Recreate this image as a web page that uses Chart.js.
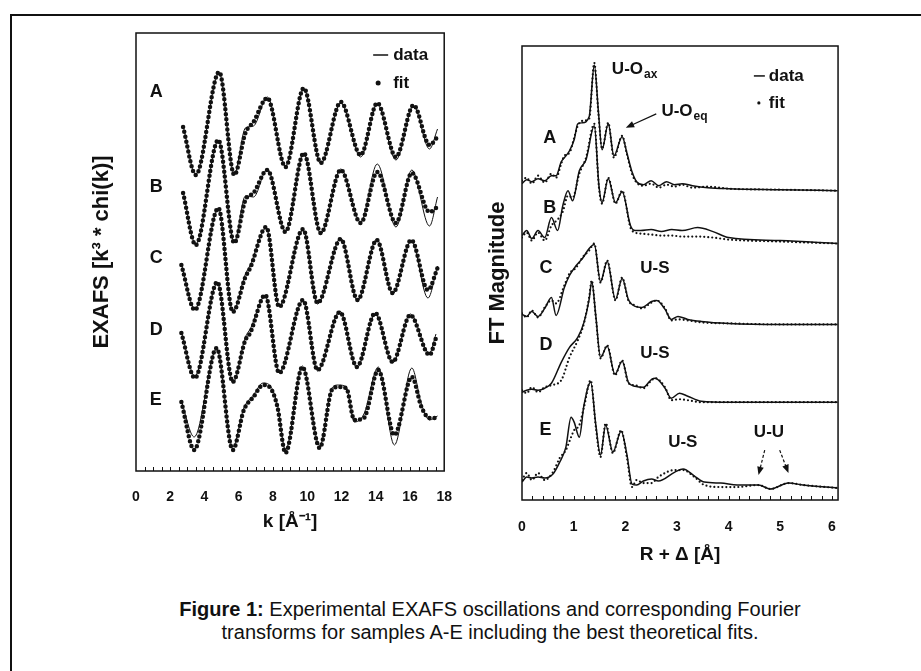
<!DOCTYPE html>
<html lang="en">
<head>
<meta charset="UTF-8">
<title>EXAFS oscillations and Fourier transforms</title>
<script src="https://cdn.jsdelivr.net/npm/chart.js"></script>
<style>
  html, body { margin: 0; padding: 0; background: #fff; }
  body { width: 921px; height: 671px; overflow: hidden; position: relative; font-family: "Liberation Sans", Arial, sans-serif; color: #111; }
  .frame { position: absolute; left: 10px; top: 14px; width: 1000px; height: 1000px; border-left: 2px solid #111; border-top: 2px solid #111; }
  #exafsChart { position: absolute; left: 60px; top: 20px; }
  #ftChart { position: absolute; left: 470px; top: 33px; }
  .caption { position: absolute; left: 90px; top: 598px; width: 800px; text-align: center; font-size: 20px; line-height: 23px; }
</style>
</head>
<body>
<div class="frame"></div>
<canvas id="exafsChart" width="410" height="525"></canvas>
<canvas id="ftChart" width="385" height="560"></canvas>
<div class="caption"><b>Figure 1:</b> Experimental EXAFS oscillations and corresponding Fourier<br>transforms for samples A-E including the best theoretical fits.</div>

<script>
// samples, stacked from top to bottom
const samples = ['A', 'B', 'C', 'D', 'E'];

// --- EXAFS k^3*chi(k), values relative to each trace's own zero line ---
const exafsOffset = [336, 271, 201, 136, 71];

const kA    = [2.75, 3.49, 4.86, 5.74, 6.39, 6.86, 7.67, 8.73, 9.80, 10.79, 11.96, 13.12, 14.09, 15.18, 16.21, 17.14, 17.61];
const fitA  = [8, -40, 63, -40, 2, 13, 37, -32, 47, -28, 33, -20, 32, -22, 30, -10, -2];
const dataA = [9, -39, 62, -39, 7, 9, 38, -31, 46, -29, 32, -22, 31, -25, 29, -14, 6];

const kB    = [2.75, 3.49, 4.81, 5.74, 6.39, 6.86, 7.67, 8.73, 9.80, 10.79, 11.96, 13.12, 14.09, 15.18, 16.11, 17.14, 17.61];
const fitB  = [7, -45, 60, -43, 0, 7, 30, -32, 47, -33, 30, -23, 28, -23, 27, -12, -7];
const dataB = [8, -44, 59, -42, 4, 3, 31, -31, 46, -34, 31, -22, 36, -27, 30, -26, 3];

const kC    = [2.65, 3.44, 4.81, 5.65, 6.39, 6.67, 7.61, 8.36, 9.76, 10.60, 11.96, 12.94, 14.06, 14.99, 16.08, 17.05, 17.61];
const fitC  = [5, -40, 62, -42, -7, 2, 43, -37, 41, -33, 31, -30, 30, -23, 30, -20, 2];
const dataC = [6, -39, 61, -41, -4, 5, 42, -36, 40, -34, 32, -31, 31, -24, 29, -28, 4];

const kD    = [2.65, 3.44, 4.75, 5.65, 6.39, 6.67, 7.55, 8.36, 9.76, 10.60, 11.91, 12.90, 13.97, 14.99, 16.02, 17.14, 17.52];
const fitD  = [2, -43, 53, -47, -5, 2, 40, -38, 35, -35, 23, -32, 22, -27, 20, -20, -3];
const dataD = [3, -41, 52, -48, -2, 6, 39, -37, 34, -36, 24, -33, 21, -28, 21, -18, 1];

const kE    = [2.65, 3.40, 4.71, 5.65, 6.30, 6.86, 7.42, 7.85, 8.26, 8.73, 9.72, 10.73, 11.44, 11.82, 12.28, 12.75, 13.31, 14.15, 15.09, 16.11, 16.67, 17.14, 17.61];
const fitE  = [-2, -50, 52, -50, -10, 3, 15, 12, -7, -53, 33, -48, 10, 13, 12, -20, -18, 30, -35, 23, -7, -18, -18];
const dataE = [-1, -37, 51, -47, -8, 5, 17, 14, -5, -50, 34, -46, 12, 15, 13, -22, -14, 33, -45, 32, -4, -20, -16];

const kTicks = [0, 2, 4, 6, 8, 10, 12, 14, 16, 18];

// --- FT magnitude, values above each trace's own baseline ---
const ftOffset = [315, 267, 178, 98, 13];

const rA      = [0.00, 0.09, 0.19, 0.31, 0.44, 0.57, 0.66, 0.76, 0.82, 0.92, 1.01, 1.08, 1.17, 1.30, 1.40, 1.48, 1.55, 1.67, 1.78, 1.94, 2.03, 2.13, 2.22, 2.35, 2.50, 2.65, 2.80, 2.95, 3.10, 3.30, 3.60, 4.00, 5.00, 6.11];
const ftFitA  = [5, 8, 2, 10, 3, 12, 8, 22, 30, 33, 48, 60, 65, 67, 123, 72, 37, 63, 28, 50, 32, 12, 3, 0, 2, -2, 1, -1, 1, -2, -1, -3, -4, -5];
const ftDataA = [2, 6, 4, 7, 5, 10, 10, 24, 28, 35, 46, 62, 63, 69, 121, 74, 36, 62, 30, 49, 33, 14, 4, 1, 5, 0, 4, 1, 2, 0, -2, -3, -4, -5];

const rB      = [0.00, 0.09, 0.19, 0.31, 0.44, 0.57, 0.69, 0.79, 0.89, 0.98, 1.11, 1.24, 1.40, 1.49, 1.55, 1.67, 1.81, 1.94, 2.10, 2.19, 2.30, 2.50, 2.70, 2.90, 3.10, 3.40, 3.70, 4.00, 5.00, 6.11];
const ftFitB  = [-4, 1, -7, 1, -7, 8, 14, 22, 38, 36, 60, 76, 110, 46, 30, 56, 30, 43, 6, 1, 0, -1, -2, -2, -3, -3, -4, -6, -8, -10];
const ftDataB = [-2, 3, -5, 3, -4, 16, 3, 28, 43, 33, 63, 74, 108, 48, 31, 55, 31, 42, 8, 3, 3, 4, 2, 4, 3, 6, 2, -4, -7, -10];

const rC      = [0.00, 0.09, 0.19, 0.31, 0.44, 0.57, 0.66, 0.82, 0.92, 1.05, 1.17, 1.30, 1.40, 1.52, 1.65, 1.81, 1.94, 2.06, 2.19, 2.32, 2.51, 2.61, 2.77, 2.89, 3.02, 3.21, 3.47, 4.00, 5.00, 6.11];
const ftFitC  = [9, 5, 12, 5, 15, 22, 19, 37, 49, 55, 65, 72, 79, 40, 62, 22, 45, 22, 17, 14, 20, 22, 14, 2, 3, 2, 0, -1, -2, -2];
const ftDataC = [8, 6, 11, 6, 14, 25, 7, 35, 47, 57, 64, 74, 78, 41, 61, 23, 44, 23, 16, 15, 21, 22, 13, 3, 6, 3, 1, -1, -2, -2];

const rD      = [0.00, 0.09, 0.19, 0.31, 0.44, 0.57, 0.76, 0.92, 1.08, 1.20, 1.30, 1.35, 1.43, 1.52, 1.65, 1.80, 1.94, 2.06, 2.19, 2.35, 2.51, 2.58, 2.77, 2.89, 3.05, 3.21, 3.47, 4.00, 5.00, 6.11];
const ftFitD  = [12, 9, 15, 10, 15, 17, 22, 45, 62, 79, 105, 122, 85, 44, 57, 27, 42, 19, 17, 14, 22, 24, 15, 2, 3, 2, 0, 0, 0, 0];
const ftDataD = [10, 12, 13, 12, 14, 19, 40, 55, 65, 80, 103, 121, 86, 45, 56, 28, 41, 20, 16, 15, 23, 24, 14, 4, 9, 6, 1, 0, 0, 0];

const rE      = [0.00, 0.09, 0.19, 0.31, 0.44, 0.60, 0.73, 0.85, 0.95, 1.01, 1.11, 1.20, 1.33, 1.43, 1.52, 1.62, 1.76, 1.92, 2.03, 2.13, 2.22, 2.35, 2.51, 2.64, 2.96, 3.12, 3.34, 3.53, 3.85, 4.17, 4.58, 4.81, 5.16, 5.44, 6.11];
const ftFitE  = [7, 14, 7, 14, 7, 15, 29, 37, 50, 57, 62, 80, 107, 60, 30, 64, 34, 57, 30, 0, 7, 4, 4, 10, 17, 17, 10, 2, 0, 0, 2, -2, 4, 2, -1];
const ftDataE = [5, 10, 9, 10, 9, 13, 25, 40, 70, 65, 50, 82, 105, 62, 32, 62, 35, 56, 33, 3, 2, 6, 8, 6, 15, 18, 11, 5, 4, 2, 2, -2, 4, 2, -1];

const rTicks = [0, 1, 2, 3, 4, 5, 6];

const FONT = '"Liberation Sans", Arial, sans-serif';
const INK = '#111';

// build one dotted "fit" and one thin "data" dataset per sample
function buildSets(xs, fits, datas, offsets, dot) {
    const sets = [];
    xs.forEach((xArr, i) => {
        sets.push({
            label: 'fit ' + samples[i],
            data: xArr.map((v, j) => ({ x: v, y: fits[i][j] + offsets[i] })),
            borderColor: INK,
            borderWidth: dot.size,
            borderDash: [0, dot.gap],
            borderCapStyle: 'round',
            cubicInterpolationMode: 'monotone',
            pointRadius: 0
        });
        sets.push({
            label: 'data ' + samples[i],
            data: xArr.map((v, j) => ({ x: v, y: datas[i][j] + offsets[i] })),
            borderColor: INK,
            borderWidth: dot.line,
            cubicInterpolationMode: 'monotone',
            pointRadius: 0
        });
    });
    return sets;
}

// frame, inner minor ticks, labels, arrows and the small legend
const decor = {
    id: 'decor',
    afterDatasetsDraw(chart, args, opts) {
        const { ctx, chartArea: a, scales: { x, y } } = chart;
        ctx.save();
        ctx.strokeStyle = INK;
        ctx.lineWidth = 1.5;
        ctx.strokeRect(a.left, a.top, a.right - a.left, a.bottom - a.top);

        ctx.lineWidth = 1;
        const n = Math.round((x.max - x.min) / opts.minorStep);
        for (let i = 1; i < n; i++) {
            const px = Math.round(x.getPixelForValue(x.min + i * opts.minorStep)) + 0.5;
            if (px >= a.right - 1) break;
            ctx.beginPath();
            ctx.moveTo(px, a.bottom);
            ctx.lineTo(px, a.bottom - 4);
            ctx.stroke();
        }

        ctx.fillStyle = INK;
        ctx.textBaseline = 'middle';
        ctx.textAlign = 'left';
        opts.labels.forEach(l => {
            const px = x.getPixelForValue(l.x), py = y.getPixelForValue(l.y);
            ctx.font = 'bold ' + l.size + 'px ' + FONT;
            ctx.fillText(l.text, px, py);
            if (l.sub) {
                const w = ctx.measureText(l.text).width;
                ctx.font = 'bold ' + Math.round(l.size * 0.7) + 'px ' + FONT;
                ctx.fillText(l.sub, px + w + 1, py + 6);
            }
        });

        opts.arrows.forEach(ar => {
            const x1 = x.getPixelForValue(ar.from[0]), y1 = y.getPixelForValue(ar.from[1]);
            const x2 = x.getPixelForValue(ar.to[0]), y2 = y.getPixelForValue(ar.to[1]);
            const ang = Math.atan2(y2 - y1, x2 - x1);
            ctx.lineWidth = 1.2;
            ctx.setLineDash(ar.dash || []);
            ctx.beginPath();
            ctx.moveTo(x1, y1);
            ctx.lineTo(x2 - 6 * Math.cos(ang), y2 - 6 * Math.sin(ang));
            ctx.stroke();
            ctx.setLineDash([]);
            ctx.beginPath();
            ctx.moveTo(x2, y2);
            ctx.lineTo(x2 - 9 * Math.cos(ang - 0.38), y2 - 9 * Math.sin(ang - 0.38));
            ctx.lineTo(x2 - 9 * Math.cos(ang + 0.38), y2 - 9 * Math.sin(ang + 0.38));
            ctx.closePath();
            ctx.fill();
        });

        const lg = opts.legend;
        const lx = x.getPixelForValue(lg.x), ly = y.getPixelForValue(lg.y);
        ctx.font = 'bold ' + lg.size + 'px ' + FONT;
        ctx.lineWidth = 1.5;
        ctx.beginPath();
        ctx.moveTo(lx, ly);
        ctx.lineTo(lx + lg.lineLen, ly);
        ctx.stroke();
        ctx.fillText('data', lx + lg.textGap, ly);
        ctx.beginPath();
        ctx.arc(lx + lg.dotAt, ly + lg.rowGap, lg.dot, 0, Math.PI * 2);
        ctx.fill();
        ctx.fillText('fit', lx + lg.textGap, ly + lg.rowGap);
        ctx.restore();
    }
};

function keepTicks(list) {
    return scale => { scale.ticks = list.map(v => ({ value: v })); };
}

function axisFont(size) {
    return { family: FONT, size: size, weight: 'bold' };
}

// left panel: EXAFS oscillations
new Chart(document.getElementById('exafsChart'), {
    type: 'line',
    data: {
        datasets: buildSets([kA, kB, kC, kD, kE], [fitA, fitB, fitC, fitD, fitE],
            [dataA, dataB, dataC, dataD, dataE], exafsOffset, { size: 4.5, gap: 5, line: 1 })
    },
    options: {
        responsive: false,
        animation: false,
        devicePixelRatio: 1,
        layout: { padding: { top: 13, right: 13, left: 0, bottom: 0 } },
        plugins: {
            legend: { display: false },
            tooltip: { enabled: false },
            decor: {
                minorStep: 0.5,
                labels: samples.map((s, i) => ({ text: s, x: 0.8, y: [379, 284, 213, 141, 71][i], size: 18 })),
                arrows: [],
                legend: { x: 13.85, y: 416, size: 17, lineLen: 15, textGap: 20, dotAt: 5, dot: 2.5, rowGap: 28 }
            }
        },
        scales: {
            x: {
                type: 'linear', min: 0, max: 18,
                afterFit: s => { s.height = 74; },
                afterBuildTicks: keepTicks(kTicks),
                grid: { display: false, drawTicks: false },
                border: { display: false },
                ticks: { padding: 18, font: axisFont(14), color: INK },
                title: { display: true, text: 'k [Å⁻¹]', font: axisFont(19), color: INK, padding: { top: 0, bottom: 12 } }
            },
            y: {
                min: 0, max: 438,
                afterFit: s => { s.width = 76; },
                grid: { display: false, drawTicks: false },
                border: { display: false },
                ticks: { display: false },
                title: { display: true, text: 'EXAFS [k³ * chi(k)]', font: axisFont(22), color: INK, padding: { top: 29, bottom: 0 } }
            }
        }
    },
    plugins: [decor]
});

// right panel: Fourier transform magnitude
new Chart(document.getElementById('ftChart'), {
    type: 'line',
    data: {
        datasets: buildSets([rA, rB, rC, rD, rE], [ftFitA, ftFitB, ftFitC, ftFitD, ftFitE],
            [ftDataA, ftDataB, ftDataC, ftDataD, ftDataE], ftOffset, { size: 2.2, gap: 4, line: 1.5 })
    },
    options: {
        responsive: false,
        animation: false,
        devicePixelRatio: 1,
        layout: { padding: { top: 13, right: 13, left: 0, bottom: 0 } },
        plugins: {
            legend: { display: false },
            tooltip: { enabled: false },
            decor: {
                minorStep: 0.2,
                labels: [
                    { text: 'A', x: 0.41, y: 363, size: 18 },
                    { text: 'B', x: 0.41, y: 293, size: 18 },
                    { text: 'C', x: 0.34, y: 232, size: 18 },
                    { text: 'D', x: 0.34, y: 155, size: 18 },
                    { text: 'E', x: 0.34, y: 70, size: 18 },
                    { text: 'U-O', sub: 'ax', x: 1.74, y: 432, size: 17 },
                    { text: 'U-O', sub: 'eq', x: 2.70, y: 390, size: 17 },
                    { text: 'U-S', x: 2.29, y: 232, size: 17 },
                    { text: 'U-S', x: 2.29, y: 147, size: 17 },
                    { text: 'U-S', x: 2.83, y: 58, size: 17 },
                    { text: 'U-U', x: 4.49, y: 68, size: 17 }
                ],
                arrows: [
                    { from: [2.60, 387], to: [2.01, 373] },
                    { from: [4.70, 50], to: [4.58, 25], dash: [3, 2] },
                    { from: [4.99, 50], to: [5.16, 27], dash: [3, 2] }
                ],
                legend: { x: 4.49, y: 425, size: 17, lineLen: 11, textGap: 15, dotAt: 5, dot: 1.6, rowGap: 27 }
            }
        },
        scales: {
            x: {
                type: 'linear', min: 0, max: 6.12,
                afterFit: s => { s.height = 93; },
                afterBuildTicks: keepTicks(rTicks),
                grid: { display: false, drawTicks: false },
                border: { display: false },
                ticks: { padding: 19, font: axisFont(14), color: INK },
                title: { display: true, text: 'R + Δ [Å]', font: axisFont(19), color: INK, padding: { top: 0, bottom: 27 } }
            },
            y: {
                min: 0, max: 455,
                afterFit: s => { s.width = 52; },
                grid: { display: false, drawTicks: false },
                border: { display: false },
                ticks: { display: false },
                title: { display: true, text: 'FT Magnitude', font: axisFont(22), color: INK, padding: { top: 15, bottom: 0 } }
            }
        }
    },
    plugins: [decor]
});
</script>
</body>
</html>
